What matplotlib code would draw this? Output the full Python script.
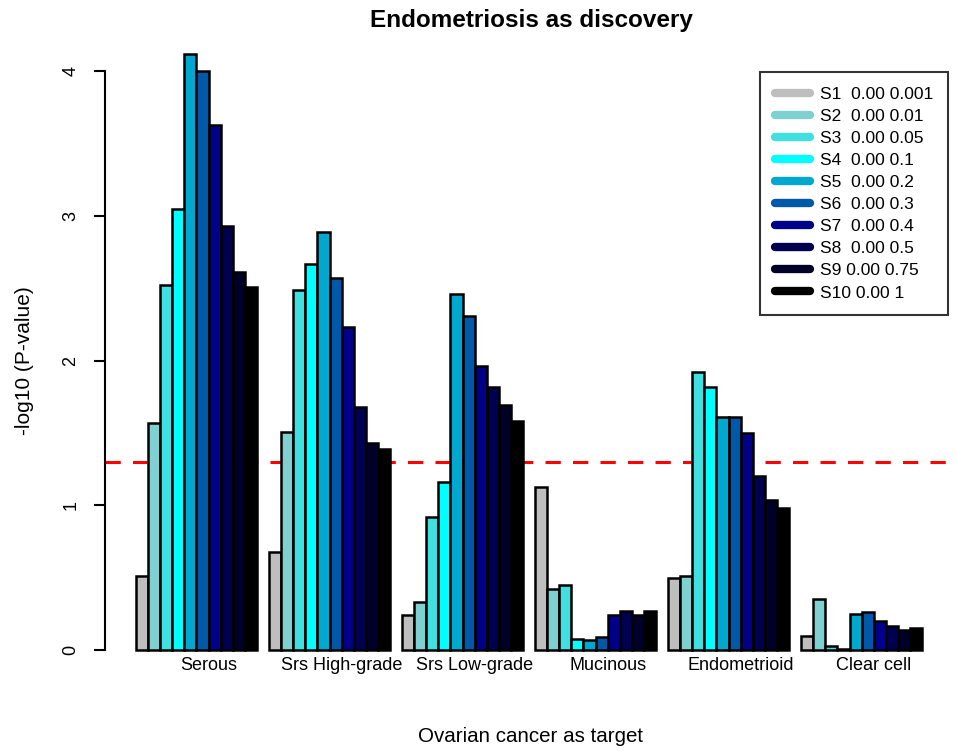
import matplotlib
matplotlib.use("Agg")
import matplotlib.pyplot as plt
from matplotlib.lines import Line2D
import numpy as np

plt.rcParams['font.family'] = ['Liberation Sans', 'DejaVu Sans']

groups = ["Serous", "Srs High-grade", "Srs Low-grade", "Mucinous", "Endometrioid", "Clear cell"]
series = ["S1", "S2", "S3", "S4", "S5", "S6", "S7", "S8", "S9", "S10"]
legend_labels = ["S1  0.00 0.001", "S2  0.00 0.01", "S3  0.00 0.05", "S4  0.00 0.1",
                 "S5  0.00 0.2", "S6  0.00 0.3", "S7  0.00 0.4", "S8  0.00 0.5",
                 "S9 0.00 0.75", "S10 0.00 1"]
colors = ["#BEBEBE", "#7FD0D0", "#40E0E0", "#00FFFF", "#00A8D0",
          "#0058A8", "#000088", "#000050", "#000028", "#000000"]

serous = [0.51, 1.57, 2.52, 3.05, 4.12, 4.00, 3.63, 2.93, 2.61, 2.51]
srs_high = [0.68, 1.51, 2.49, 2.67, 2.89, 2.57, 2.23, 1.68, 1.43, 1.39]
srs_low = [0.24, 0.33, 0.92, 1.16, 2.46, 2.31, 1.96, 1.82, 1.69, 1.58]
mucinous = [1.13, 0.42, 0.45, 0.08, 0.07, 0.09, 0.24, 0.27, 0.24, 0.27]
endometrioid = [0.50, 0.51, 1.92, 1.82, 1.61, 1.61, 1.50, 1.20, 1.04, 0.98]
clear_cell = [0.10, 0.35, 0.03, 0.01, 0.25, 0.26, 0.20, 0.17, 0.14, 0.15]
values = [serous, srs_high, srs_low, mucinous, endometrioid, clear_cell]

threshold = -np.log10(0.05)

fig = plt.figure(figsize=(9.56, 7.56), dpi=100)
ax = fig.add_axes([0.1094, 0.1085, 0.888, 0.852])

n = len(series)
for g, vals in enumerate(values):
    start = g * (n + 1) + 1
    for i, v in enumerate(vals):
        ax.bar(start + i + 0.5, v, width=1.0, color=colors[i],
               edgecolor="black", linewidth=1.8, zorder=2)

ax.axhline(threshold, color="red", linestyle=(0, (5, 4)), linewidth=2.2, zorder=1)

xmin, xmax = 1, len(groups) * (n + 1)
pad = (xmax - xmin) * 0.04
ax.set_xlim(xmin - pad, xmax + pad)
ymax = max(max(v) for v in values)
ax.set_ylim(-ymax * 0.04, ymax * 1.04)

for s in ["top", "right", "bottom"]:
    ax.spines[s].set_visible(False)
ax.spines["left"].set_bounds(0, 4)
ax.spines["left"].set_linewidth(1.5)
ax.set_yticks([0, 1, 2, 3, 4])
ax.set_yticklabels(["0", "1", "2", "3", "4"], rotation=90, va="center", fontsize=13)
ax.tick_params(axis="y", length=8, width=1.5, pad=10)

centers = [g * (n + 1) + 1 + n / 2 + 1 for g in range(len(groups))]
ax.set_xticks([])
for c, name in zip(centers, groups):
    ax.text(c, -0.105, name, ha="center", va="center", fontsize=13)

ax.set_ylabel("-log10 (P-value)", fontsize=15, va="center")
ax.yaxis.set_label_coords(-0.094, 0.486)
fig.text(0.555, 1 - 737 / 756, "Ovarian cancer as target", ha="center", va="center", fontsize=14.8)
fig.text(0.556, 1 - 20 / 756, "Endometriosis as discovery", ha="center", va="center",
         fontsize=17.5, fontweight="bold")

handles = [Line2D([0], [0], color=c, linewidth=6, solid_capstyle="round") for c in colors]
leg = ax.legend(handles, legend_labels, loc="upper right", bbox_to_anchor=(0.9935, 0.935),
                fontsize=12.5, frameon=True, fancybox=False, edgecolor="black",
                handlelength=2.0, handletextpad=0.6, labelspacing=0.40,
                borderpad=0.85, borderaxespad=0.0)
leg.get_frame().set_linewidth(1.5)

fig.savefig("out.png", dpi=100)
